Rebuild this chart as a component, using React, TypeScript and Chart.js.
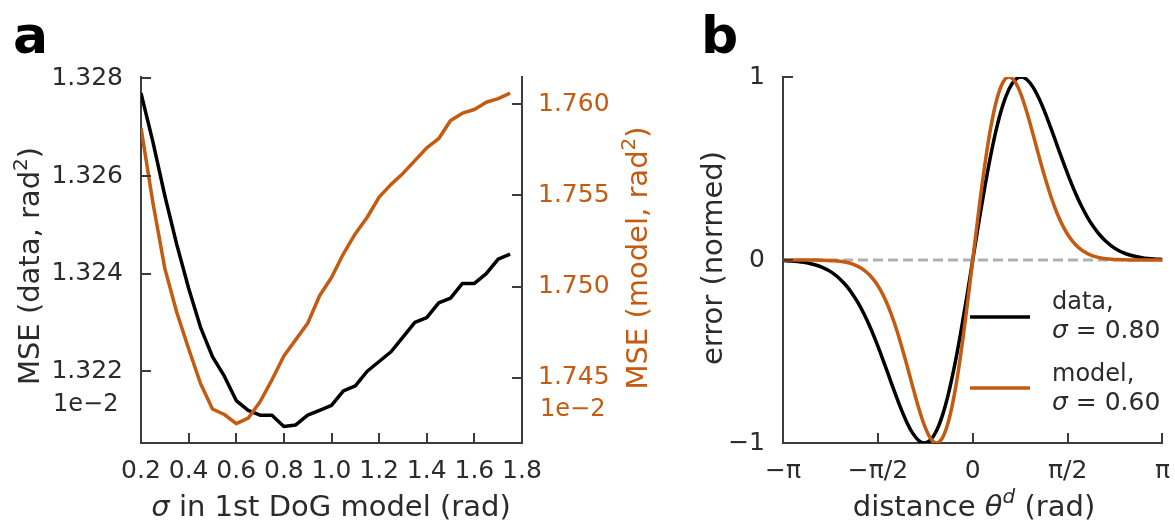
import React, { useEffect, useRef } from 'react';
import { Chart, registerables } from 'chart.js';

Chart.register(...registerables);

// ---------- Panel a data ----------
const SIGMA = [0.20, 0.25, 0.30, 0.35, 0.40, 0.45, 0.50, 0.55, 0.60, 0.65, 0.70, 0.75, 0.80, 0.85, 0.90, 0.95,
  1.00, 1.05, 1.10, 1.15, 1.20, 1.25, 1.30, 1.35, 1.40, 1.45, 1.50, 1.55, 1.60, 1.65, 1.70, 1.75];
const MSE_DATA = [1.3277, 1.3267, 1.3256, 1.3246, 1.3237, 1.3229, 1.3223, 1.3219, 1.3214, 1.3212,
  1.3211, 1.3211, 1.32087, 1.3209, 1.3211, 1.3212, 1.3213, 1.3216, 1.3217, 1.3220,
  1.3222, 1.3224, 1.3227, 1.3230, 1.3231, 1.3234, 1.3235, 1.3238, 1.3238, 1.3240, 1.3243, 1.3244];
const MSE_MODEL = [1.7587, 1.7546, 1.7510, 1.7486, 1.7466, 1.7447, 1.7433, 1.7430, 1.7425, 1.7428,
  1.7437, 1.7449, 1.7462, 1.7471, 1.7480, 1.7495, 1.7505, 1.7518, 1.7529, 1.7538,
  1.7549, 1.7556, 1.7562, 1.7569, 1.7576, 1.7581, 1.7591, 1.7595, 1.7597, 1.7601, 1.7603, 1.7606];
const A_XTICKS = [0.2, 0.4, 0.6, 0.8, 1.0, 1.2, 1.4, 1.6, 1.8];
const A_LEFT_TICKS = [1.322, 1.324, 1.326, 1.328];
const A_RIGHT_TICKS = [1.745, 1.750, 1.755, 1.760];
const A_LEFT_RANGE = [1.32053, 1.32803];
const A_RIGHT_RANGE = [1.74144, 1.76148];

// ---------- Panel b data ----------
const THETA = [-3.1416, -3.1, -3.0, -2.9, -2.8, -2.7, -2.6, -2.5, -2.4, -2.3, -2.2, -2.1, -2.0, -1.9, -1.8, -1.7,
  -1.6, -1.5, -1.4, -1.3, -1.2, -1.1, -1.0, -0.9, -0.8, -0.7, -0.6, -0.5, -0.4, -0.3, -0.2, -0.1, 0,
  0.1, 0.2, 0.3, 0.4, 0.5, 0.6, 0.7, 0.8, 0.9, 1.0, 1.1, 1.2, 1.3, 1.4, 1.5, 1.6,
  1.7, 1.8, 1.9, 2.0, 2.1, 2.2, 2.3, 2.4, 2.5, 2.6, 2.7, 2.8, 2.9, 3.0, 3.1, 3.1416];
const ERR_DATA = [-0.0029, -0.0035, -0.0055, -0.0084, -0.0126, -0.0187, -0.0272, -0.0390, -0.0549, -0.0760,
  -0.1034, -0.1380, -0.1811, -0.2334, -0.2952, -0.3663, -0.4463, -0.5331, -0.6241, -0.7155,
  -0.8029, -0.8808, -0.9435, -0.9851, -1.0, -0.9837, -0.9334, -0.8476, -0.7275, -0.5763, -0.3995, -0.2045, 0,
  0.2045, 0.3995, 0.5763, 0.7275, 0.8476, 0.9334, 0.9837, 1.0, 0.9851, 0.9435, 0.8808, 0.8029,
  0.7155, 0.6241, 0.5331, 0.4463, 0.3663, 0.2952, 0.2334, 0.1811, 0.1380, 0.1034, 0.0760, 0.0549,
  0.0390, 0.0272, 0.0187, 0.0126, 0.0084, 0.0055, 0.0035, 0.0029];
const ERR_MODEL = [0, 0, 0, 0, -0.0001, -0.0003, -0.0006, -0.0012, -0.0022, -0.0041,
  -0.0073, -0.0126, -0.0212, -0.0347, -0.0549, -0.0844, -0.1255, -0.1811, -0.2529, -0.3417,
  -0.4463, -0.5630, -0.6852, -0.8029, -0.9037, -0.9739, -1.0, -0.9709, -0.8801, -0.7275, -0.5199, -0.2710, 0,
  0.2710, 0.5199, 0.7275, 0.8801, 0.9709, 1.0, 0.9739, 0.9037, 0.8029, 0.6852, 0.5630, 0.4463,
  0.3417, 0.2529, 0.1811, 0.1255, 0.0844, 0.0549, 0.0347, 0.0212, 0.0126, 0.0073, 0.0041, 0.0022,
  0.0012, 0.0006, 0.0003, 0.0001, 0, 0, 0, 0];
const ZERO_X = [-Math.PI, Math.PI];
const ZERO_Y = [0, 0];
const B_XTICKS = [-Math.PI, -Math.PI / 2, 0, Math.PI / 2, Math.PI];
const B_XTICK_LABELS = ['\u2212\u03c0', '\u2212\u03c0/2', '0', '\u03c0/2', '\u03c0'];
const B_YTICKS = [-1, 0, 1];
const B_YTICK_LABELS = ['\u22121', '0', '1'];

// ---------- styles ----------
const FONT = "'DejaVu Sans', sans-serif";
const AXIS = '#3c3c3c';
const TEXT = '#2b2b2b';
const BLACK = '#000000';
const ORANGE = '#c55a11';
const GRAY = '#b0b0b0';
const TICK_SIZE = 25;
const TITLE_SIZE = 29;
const LINE_W = 3.5;

type Seg = { t: string; size: number; italic?: boolean; bold?: boolean; dy?: number };

function fontOf(s: Seg) {
  return `${s.italic ? 'italic ' : ''}${s.bold ? 'bold ' : ''}${s.size}px ${FONT}`;
}

function drawRich(ctx: CanvasRenderingContext2D, segs: Seg[], x: number, y: number,
  align: 'left' | 'center', color: string, rotate = 0) {
  ctx.save();
  ctx.translate(x, y);
  if (rotate) ctx.rotate(rotate);
  ctx.fillStyle = color;
  ctx.textBaseline = 'alphabetic';
  ctx.textAlign = 'left';
  let total = 0;
  const widths = segs.map((s) => { ctx.font = fontOf(s); const w = ctx.measureText(s.t).width; total += w; return w; });
  let cx = align === 'center' ? -total / 2 : 0;
  segs.forEach((s, i) => {
    ctx.font = fontOf(s);
    ctx.fillText(s.t, cx, s.dy || 0);
    cx += widths[i];
  });
  ctx.restore();
}

function fixedTicks(values: number[]) {
  return (scale: any) => { scale.ticks = values.map((v) => ({ value: v })); };
}

type TickSpec = { id: string; side: 'left' | 'right' | 'bottom' };

function inwardTicks(specs: TickSpec[]) {
  return {
    id: 'inwardTicks',
    afterDraw(chart: any) {
      const ctx = chart.ctx as CanvasRenderingContext2D;
      const area = chart.chartArea;
      ctx.save();
      ctx.strokeStyle = AXIS;
      ctx.lineWidth = 2;
      const L = 10;
      specs.forEach(({ id, side }) => {
        const s = chart.scales[id];
        s.ticks.forEach((t: any) => {
          const p = Math.round(s.getPixelForValue(t.value));
          ctx.beginPath();
          if (side === 'left') { ctx.moveTo(area.left, p); ctx.lineTo(area.left + L, p); }
          if (side === 'right') { ctx.moveTo(area.right, p); ctx.lineTo(area.right - L, p); }
          if (side === 'bottom') { ctx.moveTo(p, area.bottom); ctx.lineTo(p, area.bottom - L); }
          ctx.stroke();
        });
      });
      ctx.restore();
    },
  };
}

function tickFont() {
  return { family: FONT, size: TICK_SIZE };
}

function makeConfigA(): any {
  const textPlugin = {
    id: 'textA',
    afterDraw(chart: any) {
      const ctx = chart.ctx as CanvasRenderingContext2D;
      drawRich(ctx, [{ t: 'a', size: 52, bold: true }], 13, 53, 'left', '#000');
      drawRich(ctx, [
        { t: 'MSE (data, rad', size: TITLE_SIZE },
        { t: '2', size: 20, dy: -12 },
        { t: ')', size: TITLE_SIZE },
      ], 39, 266, 'center', TEXT, -Math.PI / 2);
      drawRich(ctx, [
        { t: 'MSE (model, rad', size: TITLE_SIZE },
        { t: '2', size: 20, dy: -12 },
        { t: ')', size: TITLE_SIZE },
      ], 647, 258, 'center', ORANGE, -Math.PI / 2);
      drawRich(ctx, [
        { t: '\u03c3', size: TITLE_SIZE, italic: true },
        { t: ' in 1st DoG model (rad)', size: TITLE_SIZE },
      ], 331, 516, 'center', TEXT);
      drawRich(ctx, [{ t: '1e\u22122', size: 24 }], 53, 411, 'left', TEXT);
      drawRich(ctx, [{ t: '1e\u22122', size: 24 }], 540, 416, 'left', ORANGE);
    },
  };
  return {
    type: 'line',
    data: {
      datasets: [
        {
          label: 'model',
          data: SIGMA.map((s, i) => ({ x: s, y: MSE_MODEL[i] })),
          yAxisID: 'y2',
          borderColor: ORANGE,
          borderWidth: LINE_W,
          pointRadius: 0,
          tension: 0,
          fill: false,
          borderJoinStyle: 'round',
        },
        {
          label: 'data',
          data: SIGMA.map((s, i) => ({ x: s, y: MSE_DATA[i] })),
          yAxisID: 'y',
          borderColor: BLACK,
          borderWidth: LINE_W,
          pointRadius: 0,
          tension: 0,
          fill: false,
          borderJoinStyle: 'round',
        },
      ],
    },
    options: {
      responsive: false,
      maintainAspectRatio: false,
      animation: false,
      events: [],
      layout: { padding: { top: 77, left: 0, right: 0, bottom: 0 } },
      plugins: { legend: { display: false }, tooltip: { enabled: false } },
      scales: {
        x: {
          type: 'linear',
          position: 'bottom',
          min: 0.2,
          max: 1.8,
          afterBuildTicks: fixedTicks(A_XTICKS),
          afterFit: (s: any) => { s.height = 84; },
          grid: { display: false },
          border: { display: true, color: AXIS, width: 2 },
          ticks: {
            autoSkip: false, maxRotation: 0, minRotation: 0, padding: 5,
            color: TEXT, font: tickFont(),
            callback: (v: any) => Number(v).toFixed(1),
          },
        },
        y: {
          type: 'linear',
          position: 'left',
          min: A_LEFT_RANGE[0],
          max: A_LEFT_RANGE[1],
          afterBuildTicks: fixedTicks(A_LEFT_TICKS),
          afterFit: (s: any) => { s.width = 141; },
          grid: { display: false },
          border: { display: true, color: AXIS, width: 2 },
          ticks: {
            padding: 10, color: TEXT, font: tickFont(),
            callback: (v: any) => Number(v).toFixed(3),
          },
        },
        y2: {
          type: 'linear',
          position: 'right',
          min: A_RIGHT_RANGE[0],
          max: A_RIGHT_RANGE[1],
          afterBuildTicks: fixedTicks(A_RIGHT_TICKS),
          afterFit: (s: any) => { s.width = 138; },
          grid: { display: false },
          border: { display: true, color: AXIS, width: 2 },
          ticks: {
            padding: 8, color: ORANGE, font: tickFont(),
            callback: (v: any) => Number(v).toFixed(3),
          },
        },
      },
    },
    plugins: [
      inwardTicks([{ id: 'y', side: 'left' }, { id: 'y2', side: 'right' }, { id: 'x', side: 'bottom' }]),
      textPlugin,
    ],
  };
}

function makeConfigB(): any {
  const textPlugin = {
    id: 'textB',
    afterDraw(chart: any) {
      const ctx = chart.ctx as CanvasRenderingContext2D;
      drawRich(ctx, [{ t: 'b', size: 52, bold: true }], 41, 53, 'left', '#000');
      drawRich(ctx, [{ t: 'error (normed)', size: TITLE_SIZE }], 62, 258, 'center', TEXT, -Math.PI / 2);
      drawRich(ctx, [
        { t: 'distance ', size: TITLE_SIZE },
        { t: '\u03b8', size: TITLE_SIZE, italic: true },
        { t: 'd', size: 20, italic: true, dy: -13 },
        { t: ' (rad)', size: TITLE_SIZE },
      ], 314, 516, 'center', TEXT);
      // legend
      ctx.save();
      ctx.lineWidth = LINE_W;
      ctx.strokeStyle = BLACK;
      ctx.beginPath(); ctx.moveTo(310, 317); ctx.lineTo(370, 317); ctx.stroke();
      ctx.strokeStyle = ORANGE;
      ctx.beginPath(); ctx.moveTo(310, 388); ctx.lineTo(370, 388); ctx.stroke();
      ctx.restore();
      drawRich(ctx, [{ t: 'data,', size: 24 }], 392, 309, 'left', TEXT);
      drawRich(ctx, [{ t: '\u03c3', size: 25, italic: true }, { t: ' = 0.80', size: 25 }], 392, 338, 'left', TEXT);
      drawRich(ctx, [{ t: 'model,', size: 24 }], 392, 381, 'left', TEXT);
      drawRich(ctx, [{ t: '\u03c3', size: 25, italic: true }, { t: ' = 0.60', size: 25 }], 392, 410, 'left', TEXT);
    },
  };
  return {
    type: 'line',
    data: {
      datasets: [
        {
          label: 'model',
          data: THETA.map((t, i) => ({ x: t, y: ERR_MODEL[i] })),
          borderColor: ORANGE,
          borderWidth: LINE_W,
          pointRadius: 0,
          cubicInterpolationMode: 'monotone',
          fill: false,
        },
        {
          label: 'data',
          data: THETA.map((t, i) => ({ x: t, y: ERR_DATA[i] })),
          borderColor: BLACK,
          borderWidth: LINE_W,
          pointRadius: 0,
          cubicInterpolationMode: 'monotone',
          fill: false,
        },
        {
          label: 'zero',
          data: ZERO_X.map((x, i) => ({ x, y: ZERO_Y[i] })),
          borderColor: GRAY,
          borderWidth: 3,
          borderDash: [10, 5],
          pointRadius: 0,
          fill: false,
        },
      ],
    },
    options: {
      responsive: false,
      maintainAspectRatio: false,
      animation: false,
      events: [],
      layout: { padding: { top: 77, left: 0, right: 11, bottom: 0 } },
      plugins: { legend: { display: false }, tooltip: { enabled: false } },
      scales: {
        x: {
          type: 'linear',
          position: 'bottom',
          min: -Math.PI,
          max: Math.PI,
          afterBuildTicks: fixedTicks(B_XTICKS),
          afterFit: (s: any) => { s.height = 84; },
          grid: { display: false },
          border: { display: true, color: AXIS, width: 2 },
          ticks: {
            autoSkip: false, maxRotation: 0, minRotation: 0, padding: 5,
            color: TEXT, font: tickFont(),
            callback: (_v: any, i: number) => B_XTICK_LABELS[i],
          },
        },
        y: {
          type: 'linear',
          position: 'left',
          min: -1,
          max: 1,
          afterBuildTicks: fixedTicks(B_YTICKS),
          afterFit: (s: any) => { s.width = 123; },
          grid: { display: false },
          border: { display: true, color: AXIS, width: 2 },
          ticks: {
            padding: 10, color: TEXT, font: tickFont(),
            callback: (_v: any, i: number) => B_YTICK_LABELS[i],
          },
        },
      },
    },
    plugins: [
      inwardTicks([{ id: 'y', side: 'left' }, { id: 'x', side: 'bottom' }]),
      textPlugin,
    ],
  };
}

export default function App() {
  const refA = useRef<HTMLCanvasElement>(null);
  const refB = useRef<HTMLCanvasElement>(null);
  useEffect(() => {
    const a = new Chart(refA.current as HTMLCanvasElement, makeConfigA());
    const b = new Chart(refB.current as HTMLCanvasElement, makeConfigB());
    return () => { a.destroy(); b.destroy(); };
  }, []);
  return (
    <div style={{ position: 'absolute', left: 0, top: 0, width: 1175, height: 527, background: '#ffffff' }}>
      <canvas ref={refA} width={660} height={527}
        style={{ position: 'absolute', left: 0, top: 0, width: 660, height: 527 }} />
      <canvas ref={refB} width={515} height={527}
        style={{ position: 'absolute', left: 660, top: 0, width: 515, height: 527 }} />
    </div>
  );
}
